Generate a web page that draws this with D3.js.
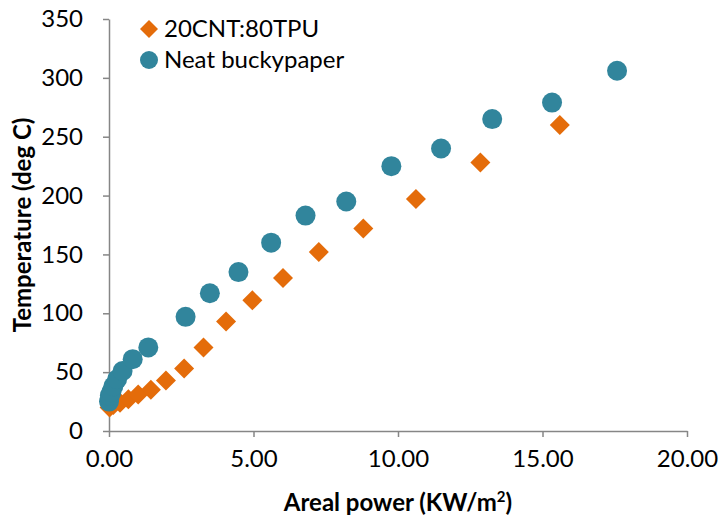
<!DOCTYPE html>
<html>
<head>
<meta charset="utf-8">
<script src="https://cdn.jsdelivr.net/npm/d3@7"></script>
<style>
  body { margin: 0; background: #fff; }
  svg text { font-family: Lato, "Open Sans", sans-serif; fill: #000; }
  .axis path, .axis line { stroke: #868686; stroke-width: 1.5; }
</style>
</head>
<body>
<div id="chart"></div>
<script>
// 20CNT:80TPU composite (orange diamonds)
const compPower = [0.02, 0.15, 0.38, 0.67, 1.01, 1.45, 1.97, 2.60, 3.27, 4.05, 4.96, 6.02, 7.26, 8.80, 10.62, 12.85, 15.60];
const compTemp  = [20, 22, 24, 27, 31, 35, 43, 53, 71, 93, 111, 130, 152, 172, 197, 228, 260];

// Neat buckypaper (teal circles)
const neatPower = [0.00, 0.03, 0.08, 0.15, 0.28, 0.47, 0.82, 1.36, 2.65, 3.49, 4.48, 5.61, 6.80, 8.21, 9.77, 11.49, 13.26, 15.33, 17.58];
const neatTemp  = [25, 30, 33, 38, 44, 51, 61, 71, 97, 117, 135, 160, 183, 195, 225, 240, 265, 279, 306];

const xTicks = [0, 5, 10, 15, 20];
const yTicks = [0, 50, 100, 150, 200, 250, 300, 350];

const seriesNames = ["20CNT:80TPU", "Neat buckypaper"];
const colors = ["#E46C0A", "#31859C"];

const width = 720, height = 523;
const margin = {left: 109, right: 33, top: 19, bottom: 92};

const svg = d3.select("#chart").append("svg")
    .attr("width", width)
    .attr("height", height);

const x = d3.scaleLinear().domain([0, 20]).range([margin.left, width - margin.right]);
const y = d3.scaleLinear().domain([0, 350]).range([height - margin.bottom, margin.top]);

// Axes
svg.append("g")
    .attr("class", "axis")
    .attr("transform", `translate(0,${y(0)})`)
    .call(d3.axisBottom(x).tickValues(xTicks).tickFormat(d3.format(".2f")).tickSize(6).tickSizeOuter(0).tickPadding(13));

svg.append("g")
    .attr("class", "axis")
    .attr("transform", `translate(${x(0)},0)`)
    .call(d3.axisLeft(y).tickValues(yTicks).tickSize(6).tickSizeOuter(0).tickPadding(20));

svg.selectAll(".axis text").attr("font-size", 24).style("font-family", "Lato, sans-serif");

// Axis titles
const xTitle = svg.append("text")
    .attr("x", (x(0) + x(20)) / 2)
    .attr("y", 511)
    .attr("text-anchor", "middle")
    .attr("font-size", 24)
    .attr("font-weight", "bold");
xTitle.append("tspan").text("Areal power (KW/m");
xTitle.append("tspan").attr("baseline-shift", "super").attr("font-size", 15).text("2");
xTitle.append("tspan").text(")");

svg.append("text")
    .attr("transform", `translate(31,${(y(0) + y(350)) / 2}) rotate(-90)`)
    .attr("text-anchor", "middle")
    .attr("font-size", 24)
    .attr("font-weight", "bold")
    .text("Temperature (deg C)");

// Data points
const comp = compPower.map((p, i) => ({p: p, t: compTemp[i]}));
const neat = neatPower.map((p, i) => ({p: p, t: neatTemp[i]}));

const diamond = "M0,-10L10,0L0,10L-10,0Z";

svg.append("g").selectAll("path")
    .data(comp)
    .enter().append("path")
    .attr("d", diamond)
    .attr("transform", d => `translate(${x(d.p)},${y(d.t)})`)
    .attr("fill", colors[0]);

svg.append("g").selectAll("circle")
    .data(neat)
    .enter().append("circle")
    .attr("cx", d => x(d.p))
    .attr("cy", d => y(d.t))
    .attr("r", 10)
    .attr("fill", colors[1]);

// Legend
const legend = svg.append("g");
legend.append("path")
    .attr("d", "M0,-9L9,0L0,9L-9,0Z")
    .attr("transform", "translate(149,29)")
    .attr("fill", colors[0]);
legend.append("circle")
    .attr("cx", 149).attr("cy", 60).attr("r", 9)
    .attr("fill", colors[1]);
legend.selectAll("text")
    .data(seriesNames)
    .enter().append("text")
    .attr("x", 164)
    .attr("y", (d, i) => 29 + i * 31)
    .attr("dy", "0.34em")
    .attr("font-size", 24)
    .text(d => d);
</script>
</body>
</html>
